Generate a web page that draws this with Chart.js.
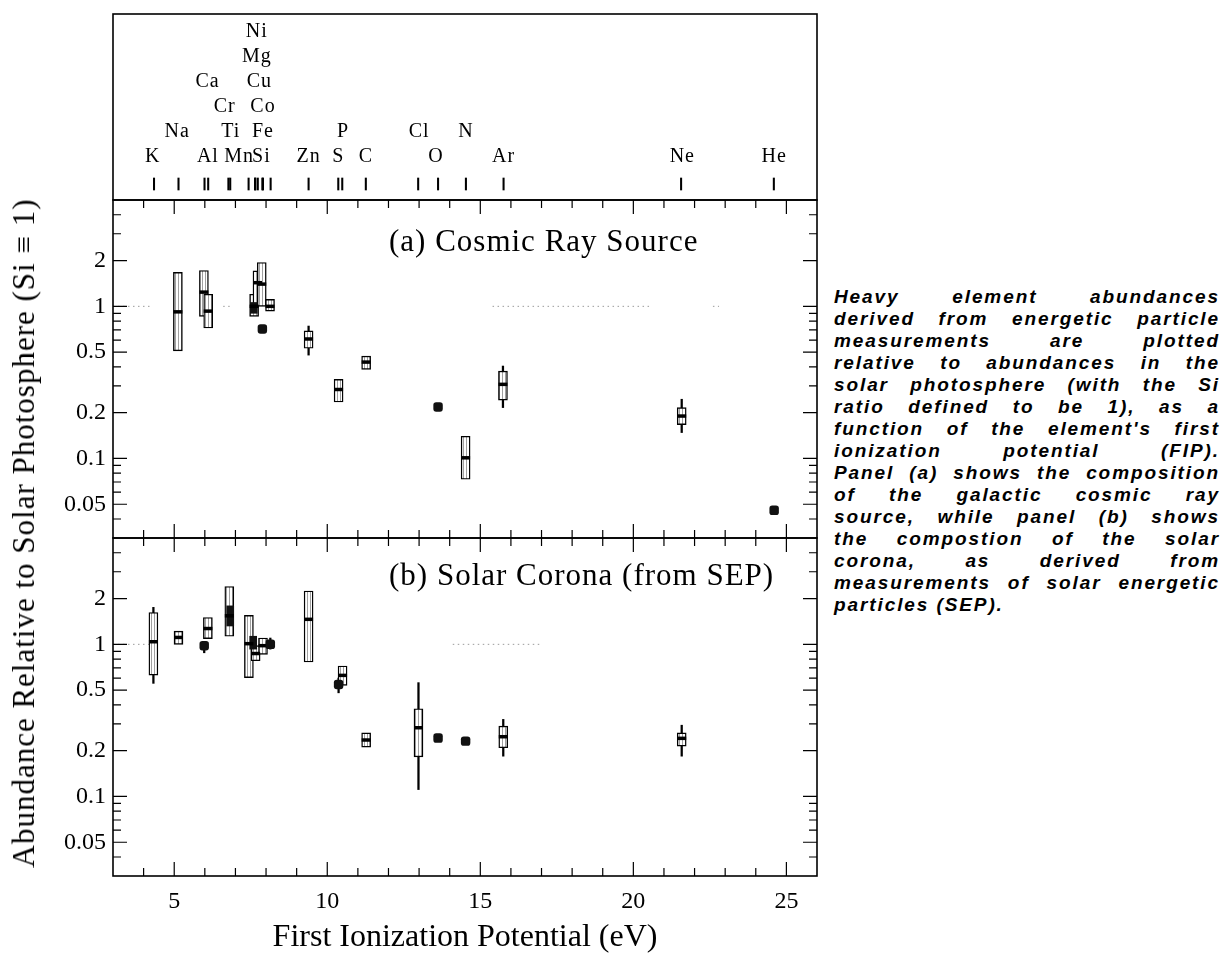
<!DOCTYPE html>
<html>
<head>
<meta charset="utf-8">
<script src="https://cdn.jsdelivr.net/npm/chart.js@4.4.1/dist/chart.umd.min.js"></script>
<style>
  body { margin: 0; background: #fff; width: 1227px; height: 962px; overflow: hidden; position: relative; }
  canvas { position: absolute; left: 0; }
  #cTop { top: 4px; }
  #cA { top: 190px; }
  #cB { top: 528px; }
  #ytitle {
    position: absolute; left: 24px; top: 533px;
    transform: translate(-50%, -50%) rotate(-90deg);
    white-space: nowrap; color: #000;
    font: 31px "Liberation Serif", "Times New Roman", serif; letter-spacing: 1px;
  }
  #caption {
    position: absolute; left: 834px; top: 286px; width: 386px;
    font: italic bold 19px "Liberation Sans", Arial, sans-serif; letter-spacing: 1.9px;
    color: #000;
  }
  #caption div { height: 22px; line-height: 22px; text-align: justify; text-align-last: justify; }
  #caption div.last { text-align: left; text-align-last: left; }
</style>
</head>
<body>
<canvas id="cTop" width="830" height="206"></canvas>
<canvas id="cA" width="830" height="358"></canvas>
<canvas id="cB" width="830" height="429"></canvas>
<div id="ytitle">Abundance Relative to Solar Photosphere (Si ≡ 1)</div>
<div id="caption"></div>

<script>
// ---- axes ----
const X_MIN = 3, X_MAX = 26;
const Y_MIN = 0.03, Y_MAX = 5;
const xTickVals = [4, 5, 6, 7, 8, 9, 10, 11, 12, 13, 14, 15, 16, 17, 18, 19, 20, 21, 22, 23, 24, 25];
const yTickVals = [0.04, 0.05, 0.06, 0.07, 0.08, 0.09, 0.1, 0.2, 0.3, 0.4, 0.5, 0.6, 0.7, 0.8, 0.9, 1, 2, 3, 4];
const yLabelVals = [0.05, 0.1, 0.2, 0.5, 1, 2];

// ---- element key (top strip) ----
const elemNames = ['K', 'Na', 'Al', 'Ca', 'Ti', 'Cr', 'Mn', 'Fe', 'Co', 'Cu', 'Mg', 'Ni', 'Si', 'Zn', 'S', 'P', 'C', 'Cl', 'O', 'N', 'Ar', 'Ne', 'He'];
const elemFip   = [4.34, 5.14, 5.99, 6.11, 6.83, 6.77, 7.43, 7.90, 7.88, 7.73, 7.65, 7.64, 8.15, 9.39, 10.36, 10.49, 11.26, 12.97, 13.62, 14.53, 15.76, 21.56, 24.59];
const elemRow   = [0, 1, 0, 3, 1, 2, 0, 1, 2, 3, 4, 5, 0, 0, 0, 1, 0, 1, 0, 1, 0, 0, 0];
// where the name is printed (eV); crowded names sit a little left of their tick
const elemLabelAt = [4.30, 5.10, 6.10, 6.09, 6.85, 6.65, 7.12, 7.90, 7.90, 7.78, 7.70, 7.70, 7.85, 9.39, 10.36, 10.52, 11.26, 13.00, 13.55, 14.53, 15.76, 21.60, 24.60];

// ---- panel (a) cosmic ray source ----
const boxElemA = ['Na', 'Al', 'Ca', 'Ni', 'Cu', 'Fe', 'Si', 'Zn', 'S', 'C', 'N', 'Ar', 'Ne'];
const boxFipA  = [5.12, 5.97, 6.11, 7.61, 7.72, 7.86, 8.13, 9.39, 10.37, 11.27, 14.52, 15.74, 21.58];
const boxLoA   = [0.51, 0.86, 0.72, 0.86, 1.03, 1.00, 0.93, 0.53, 0.235, 0.385, 0.073, 0.242, 0.167];
const boxHiA   = [1.67, 1.72, 1.20, 1.20, 1.71, 1.94, 1.11, 0.69, 0.331, 0.471, 0.140, 0.375, 0.216];
const boxMidA  = [0.92, 1.24, 0.93, 1.00, 1.43, 1.40, 1.00, 0.61, 0.284, 0.430, 0.101, 0.307, 0.190];
const boxErrLoA = [null, null, null, null, null, null, null, 0.478, null, null, null, 0.216, 0.148];
const boxErrHiA = [null, null, null, null, null, null, null, 0.742, null, null, null, 0.405, 0.245];
const fillFipA = [7.60];
const fillLoA  = [0.90];
const fillHiA  = [1.06];
const dotElemA = ['Co', 'O', 'He'];
const dotFipA  = [7.88, 13.62, 24.60];
const dotValA  = [0.71, 0.218, 0.0456];
const dotErrLoA = [null, null, null];
const dotErrHiA = [null, null, null];
const refSegA  = [[3.0, 4.2], [6.6, 6.9], [15.4, 20.6], [22.6, 22.8]];

// ---- panel (b) solar corona (SEP) ----
const boxElemB = ['K', 'Na', 'Ca', 'Cr', 'Mn', 'Mg', 'Fe', 'Zn', 'P', 'C', 'Cl', 'Ar', 'Ne'];
const boxFipB  = [4.32, 5.14, 6.10, 6.80, 7.44, 7.66, 7.90, 9.39, 10.50, 11.27, 12.98, 15.75, 21.58];
const boxLoB   = [0.628, 1.00, 1.09, 1.13, 0.604, 0.78, 0.86, 0.765, 0.537, 0.211, 0.182, 0.209, 0.214];
const boxHiB   = [1.62, 1.22, 1.50, 2.40, 1.55, 0.98, 1.10, 2.24, 0.72, 0.262, 0.377, 0.290, 0.262];
const boxMidB  = [1.04, 1.11, 1.27, 1.54, 1.01, 0.87, 0.98, 1.46, 0.625, 0.235, 0.283, 0.247, 0.241];
const boxErrLoB = [0.554, null, null, null, null, null, null, null, null, null, 0.111, 0.184, 0.184];
const boxErrHiB = [1.75, null, null, null, null, null, null, null, null, null, 0.56, 0.321, 0.294];
const fillFipB = [6.83, 7.58];
const fillLoB  = [1.32, 0.93];
const fillHiB  = [1.79, 1.13];
const dotElemB = ['Al', 'Si', 'S', 'O', 'N'];
const dotFipB  = [5.98, 8.14, 10.37, 13.62, 14.52];
const dotValB  = [0.98, 1.00, 0.545, 0.242, 0.231];
const dotErrLoB = [0.88, 0.93, 0.48, null, null];
const dotErrHiB = [1.00, 1.10, 0.60, null, null];
const refSegB  = [[3.0, 4.2], [14.1, 17.0]];

const captionLines = [
  'Heavy element abundances',
  'derived from energetic particle',
  'measurements are plotted',
  'relative to abundances in the',
  'solar photosphere (with the Si',
  'ratio defined to be 1), as a',
  "function of the element's first",
  'ionization potential (FIP).',
  'Panel (a) shows the composition',
  'of the galactic cosmic ray',
  'source, while panel (b) shows',
  'the compostion of the solar',
  'corona, as derived from',
  'measurements of solar energetic',
  'particles (SEP).'
];

const SERIF = '"Liberation Serif", "Times New Roman", serif';

// caption text
const cap = document.getElementById('caption');
captionLines.forEach((t, i) => {
  const d = document.createElement('div');
  d.textContent = t;
  if (i === captionLines.length - 1) d.className = 'last';
  cap.appendChild(d);
});

// light vertical hatching used inside the open boxes
function hatchPattern() {
  const c = document.createElement('canvas');
  c.width = 3; c.height = 4;
  const g = c.getContext('2d');
  g.fillStyle = '#fff';
  g.fillRect(0, 0, 3, 4);
  g.fillStyle = '#a0a0a0';
  g.fillRect(1, 0, 1, 4);
  return g.createPattern(c, 'repeat');
}

// frame, inward ticks and panel label
const panelFrame = {
  id: 'panelFrame',
  afterDraw(chart, args, o) {
    if (!o.on) return;
    const { ctx, chartArea: a } = chart;
    const xs = chart.scales.x, ys = chart.scales.y;
    ctx.save();
    ctx.strokeStyle = '#000';
    ctx.lineWidth = 1.2;
    ctx.beginPath();
    xTickVals.forEach(v => {
      const px = xs.getPixelForValue(v);
      const len = v % 5 === 0 ? 14 : 8;
      ctx.moveTo(px, a.top); ctx.lineTo(px, a.top + len);
      ctx.moveTo(px, a.bottom); ctx.lineTo(px, a.bottom - len);
    });
    yTickVals.forEach(v => {
      const py = ys.getPixelForValue(v);
      const len = yLabelVals.includes(v) ? 14 : 8;
      ctx.moveTo(a.left, py); ctx.lineTo(a.left + len, py);
      ctx.moveTo(a.right, py); ctx.lineTo(a.right - len, py);
    });
    ctx.stroke();
    ctx.lineWidth = 1.6;
    ctx.strokeRect(a.left, a.top, a.right - a.left, a.bottom - a.top);
    if (o.title) {
      ctx.fillStyle = '#000';
      ctx.font = '31px ' + SERIF;
      ctx.letterSpacing = '1px';
      ctx.textAlign = 'left';
      ctx.textBaseline = 'middle';
      ctx.fillText(o.title, o.titleLeft, a.top + o.titleDy);
    }
    ctx.restore();
  }
};

// element names in the top strip
const elemLabels = {
  id: 'elemLabels',
  afterDraw(chart, args, o) {
    if (!o.on) return;
    const { ctx, chartArea: a } = chart;
    const xs = chart.scales.x, ys = chart.scales.y;
    ctx.save();
    ctx.fillStyle = '#000';
    ctx.font = '20px ' + SERIF;
    ctx.letterSpacing = '1px';
    ctx.textAlign = 'center';
    ctx.textBaseline = 'middle';
    elemNames.forEach((n, i) => {
      ctx.fillText(n, xs.getPixelForValue(elemLabelAt[i]), ys.getPixelForValue(elemRow[i]));
    });
    ctx.strokeStyle = '#000';
    ctx.lineWidth = 1.6;
    ctx.strokeRect(a.left, a.top, a.right - a.left, a.bottom - a.top);
    ctx.restore();
  }
};

Chart.register(panelFrame, elemLabels);

function refLineData(segs) {
  const out = [];
  segs.forEach(s => {
    out.push({ x: s[0], y: 1 }, { x: s[1], y: 1 }, { x: s[1], y: null });
  });
  return out;
}

function errData(fips, lo, hi) {
  const out = [];
  fips.forEach((x, i) => { if (lo[i] != null) out.push({ x: x, y: [lo[i], hi[i]] }); });
  return out;
}

function panelChart(id, p) {
  const hatch = hatchPattern();
  const datasets = [
    {
      type: 'line', order: 9,
      data: refLineData(p.refSeg),
      borderColor: '#9a9a9a', borderWidth: 1, borderDash: [1.5, 3.5],
      pointRadius: 0, spanGaps: false
    },
    {
      type: 'bar', order: 8, grouped: false, barThickness: 1.6,
      data: errData(p.boxFip, p.boxErrLo, p.boxErrHi).concat(errData(p.dotFip, p.dotErrLo, p.dotErrHi)),
      backgroundColor: '#000', borderWidth: 0
    },
    {
      type: 'bar', order: 7, grouped: false, barThickness: 9,
      data: p.boxFip.map((x, i) => ({ x: x, y: [p.boxLo[i], p.boxHi[i]] })),
      backgroundColor: hatch, borderColor: '#000', borderWidth: 1.4, borderSkipped: false
    },
    {
      type: 'bar', order: 6, grouped: false, barThickness: 7,
      data: p.fillFip.map((x, i) => ({ x: x, y: [p.fillLo[i], p.fillHi[i]] })),
      backgroundColor: '#111', borderWidth: 0
    },
    {
      type: 'scatter', order: 5,
      data: p.boxFip.map((x, i) => ({ x: x, y: p.boxMid[i] })),
      pointStyle: 'line', pointRadius: 4.5, borderColor: '#000', borderWidth: 3.5, showLine: false
    },
    {
      type: 'scatter', order: 4,
      data: p.dotFip.map((x, i) => ({ x: x, y: p.dotVal[i] })),
      pointStyle: 'rectRounded', pointRadius: 5.5, backgroundColor: '#111', borderColor: '#111', borderWidth: 0, showLine: false
    }
  ];

  return new Chart(document.getElementById(id), {
    type: 'bar',
    data: { datasets: datasets },
    options: {
      responsive: false,
      animation: false,
      events: [],
      layout: { padding: { left: 0, right: 13, top: 10, bottom: p.showX ? 0 : 10 } },
      plugins: {
        legend: { display: false },
        tooltip: { enabled: false },
        panelFrame: { on: true, title: p.title, titleLeft: 389, titleDy: p.titleDy },
        elemLabels: { on: false }
      },
      scales: {
        x: {
          type: 'linear', min: X_MIN, max: X_MAX, offset: false,
          display: p.showX,
          afterBuildTicks: s => { s.ticks = xTickVals.map(v => ({ value: v })); },
          afterFit: s => {
            s.height = p.showX ? 81 : 0;
            s.paddingLeft = 0; s.paddingRight = 0;
          },
          grid: { display: false, drawTicks: false },
          border: { display: false },
          ticks: {
            autoSkip: false, maxRotation: 0, padding: 11, color: '#000',
            font: { family: SERIF, size: 24 },
            callback: v => (v % 5 === 0 ? String(v) : '')
          },
          title: {
            display: p.showX, text: 'First Ionization Potential (eV)', color: '#000',
            font: { family: SERIF, size: 32 }, padding: 0
          }
        },
        y: {
          type: 'logarithmic', min: Y_MIN, max: Y_MAX,
          afterBuildTicks: s => { s.ticks = yTickVals.map(v => ({ value: v })); },
          afterFit: s => {
            s.width = 113;
            s.paddingTop = 0; s.paddingBottom = 0;
          },
          grid: { display: false, drawTicks: false },
          border: { display: false },
          ticks: {
            autoSkip: false, padding: 7, color: '#000',
            font: { family: SERIF, size: 24 },
            callback: v => (yLabelVals.includes(v) ? String(v) : '')
          }
        }
      }
    }
  });
}

// top strip with element positions
new Chart(document.getElementById('cTop'), {
  type: 'bar',
  data: {
    datasets: [{
      type: 'bar', grouped: false, barThickness: 1.4,
      data: elemFip.map(x => ({ x: x, y: [-1.32, -0.84] })),
      backgroundColor: '#000', borderWidth: 0
    }]
  },
  options: {
    responsive: false,
    animation: false,
    events: [],
    layout: { padding: { left: 113, right: 13, top: 10, bottom: 10 } },
    plugins: {
      legend: { display: false },
      tooltip: { enabled: false },
      panelFrame: { on: false },
      elemLabels: { on: true }
    },
    scales: {
      x: { type: 'linear', min: X_MIN, max: X_MAX, offset: false, display: false },
      y: { type: 'linear', min: -1.72, max: 5.72, display: false }
    }
  }
});

panelChart('cA', {
  title: '(a) Cosmic Ray Source', titleDy: 43, showX: false,
  boxFip: boxFipA, boxLo: boxLoA, boxHi: boxHiA, boxMid: boxMidA, boxErrLo: boxErrLoA, boxErrHi: boxErrHiA,
  fillFip: fillFipA, fillLo: fillLoA, fillHi: fillHiA,
  dotFip: dotFipA, dotVal: dotValA, dotErrLo: dotErrLoA, dotErrHi: dotErrHiA,
  refSeg: refSegA
});

panelChart('cB', {
  title: '(b) Solar Corona (from SEP)', titleDy: 39, showX: true,
  boxFip: boxFipB, boxLo: boxLoB, boxHi: boxHiB, boxMid: boxMidB, boxErrLo: boxErrLoB, boxErrHi: boxErrHiB,
  fillFip: fillFipB, fillLo: fillLoB, fillHi: fillHiB,
  dotFip: dotFipB, dotVal: dotValB, dotErrLo: dotErrLoB, dotErrHi: dotErrHiB,
  refSeg: refSegB
});
</script>
</body>
</html>
